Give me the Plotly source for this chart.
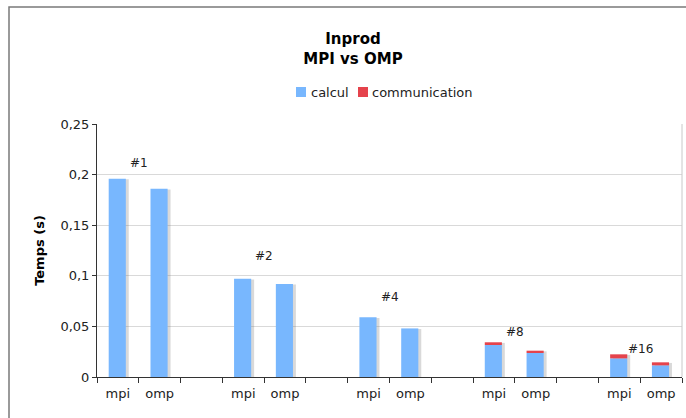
import plotly.graph_objects as go

groups = ["#1", "#2", "#4", "#8", "#16"]
series_names = ["calcul", "communication"]
calc_mpi = [0.196, 0.097, 0.059, 0.0316, 0.0184]
comm_mpi = [0.0, 0.0, 0.0, 0.0027, 0.0040]
calc_omp = [0.186, 0.092, 0.048, 0.0237, 0.0115]
comm_omp = [0.0, 0.0, 0.0, 0.0023, 0.0030]
group_label_y = [0.211, 0.120, 0.079, 0.044, 0.028]
bar_labels = ["mpi", "omp"]
y_ticks = [0, 0.05, 0.1, 0.15, 0.2, 0.25]

BLUE = "#78B7FE"
RED = "#E5434C"
COLORS = [BLUE, RED]
W = 0.41
OFF = -0.22
FONT = "DejaVu Sans"

xs, calc, comm, ticktext = [], [], [], []
for g in range(len(groups)):
    for j, (c, m) in enumerate([(calc_mpi[g], comm_mpi[g]), (calc_omp[g], comm_omp[g])]):
        xs.append(3 * g + j)
        calc.append(c)
        comm.append(m)
        ticktext.append(bar_labels[j])
totals = [a + b for a, b in zip(calc, comm)]

fig = go.Figure()
# soft shadow
fig.add_trace(go.Bar(x=xs, y=[t - 0.0006 for t in totals], width=W, offset=OFF + 0.07,
                     marker=dict(color="rgba(120,120,120,0.28)", line=dict(width=0)),
                     showlegend=False, hoverinfo="skip"))
fig.add_trace(go.Bar(x=xs, y=calc, width=W, offset=OFF, name=series_names[0], showlegend=False,
                     marker=dict(color=BLUE, line=dict(width=0))))
fig.add_trace(go.Bar(x=xs, y=comm, base=calc, width=W, offset=OFF, name=series_names[1], showlegend=False,
                     marker=dict(color=RED, line=dict(width=0))))

for g, lab in enumerate(groups):
    fig.add_annotation(x=3 * g + 0.5, y=group_label_y[g], text=lab, showarrow=False,
                       xref="x", yref="y", font=dict(family=FONT, size=12, color="#222"))

# manual compact legend (paper coords; plot area is 585 x 253 px)
PW, PH, L0, B0 = 585.0, 253.0, 97.0, 377.0
def px(x):
    return (x - L0) / PW
def py(y):
    return (B0 - y) / PH
leg_sq = [(296, 306), (358, 368)]
leg_tx = [309, 370]
for i, name in enumerate(series_names):
    fig.add_shape(type="rect", xref="paper", yref="paper",
                  x0=px(leg_sq[i][0]), x1=px(leg_sq[i][1]), y0=py(97), y1=py(87),
                  line=dict(width=0), fillcolor=COLORS[i])
    fig.add_annotation(xref="paper", yref="paper", x=px(leg_tx[i]), y=py(92), text=name,
                       showarrow=False, xanchor="left", yanchor="middle",
                       font=dict(family=FONT, size=13, color="#222"))

# outer chart frame
fig.add_shape(type="rect", xref="paper", yref="paper", x0=px(9), x1=1.2, y0=-0.5, y1=py(7),
              line=dict(color="#7a7a7a", width=1.5), fillcolor="rgba(0,0,0,0)", layer="below")
# right border of plot area
fig.add_shape(type="line", xref="paper", yref="paper", x0=1, x1=1, y0=0, y1=1,
              line=dict(color="#c8c8c8", width=1))

fig.update_layout(
    width=686, height=418,
    paper_bgcolor="white", plot_bgcolor="white",
    margin=dict(l=97, r=4, t=124, b=41, autoexpand=False),
    barmode="overlay",
    separators=", ",
    showlegend=False,
    font=dict(family=FONT, size=12, color="#222"),
    title=dict(text="<b>Inprod<br>MPI vs OMP</b>", x=353 / 686, xref="container", xanchor="center",
               y=1 - 44 / 418, yref="container", yanchor="top",
               font=dict(family=FONT, size=15, color="#000")),
    xaxis=dict(range=[-0.5, 13.5], tickvals=xs, ticktext=ticktext, ticks="",
               showgrid=False, zeroline=False, showline=True, linecolor="#333", linewidth=1,
               ticklabelstandoff=4,
               tickfont=dict(family=FONT, size=13, color="#222"),
               minor=dict(ticks="outside", tick0=-0.5, dtick=1, ticklen=5, tickcolor="#333", showgrid=False)),
    yaxis=dict(range=[0, 0.25], tickvals=y_ticks, ticks="outside", ticklen=4, tickcolor="#333",
               showgrid=True, gridcolor="#d9d9d9", gridwidth=1, zeroline=False,
               showline=True, linecolor="#333", linewidth=1,
               tickfont=dict(family=FONT, size=13, color="#222"),
               title=dict(text="<b>Temps (s)</b>", standoff=12,
                          font=dict(family=FONT, size=13, color="#000"))),
)

fig.write_html("out.html", config={"displayModeBar": False},
               post_script="document.body.style.margin='0';document.body.style.overflow='hidden';")
